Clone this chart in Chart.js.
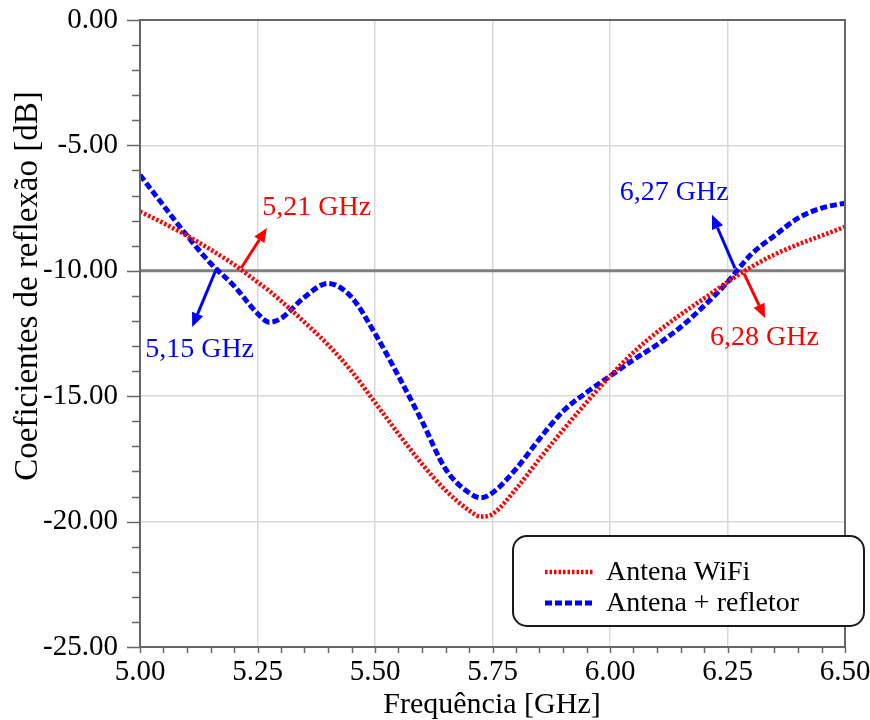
<!DOCTYPE html>
<html lang="pt">
<head>
<meta charset="utf-8">
<title>Coeficientes de reflexão</title>
<script src="https://cdn.jsdelivr.net/npm/chart.js@4.4.1/dist/chart.umd.min.js"></script>
<style>
  html, body { margin: 0; padding: 0; background: #fff; }
  #wrap { width: 870px; height: 720px; }
</style>
</head>
<body>
<div id="wrap"><canvas id="chart" width="870" height="720"></canvas></div>
<script>
// ------------------------- Data -------------------------
const freqs = [5.00, 5.05, 5.10, 5.15, 5.20, 5.25, 5.275, 5.30, 5.35, 5.40, 5.45, 5.50, 5.55,
  5.60, 5.65, 5.70, 5.725, 5.75, 5.80, 5.85, 5.90, 5.95, 6.00, 6.05, 6.10, 6.15, 6.20,
  6.25, 6.30, 6.35, 6.40, 6.45, 6.50];

const wifiDb = [-7.64, -8.1, -8.6, -9.15, -9.75, -10.45, -10.8, -11.2, -12.05, -12.95, -14.0, -15.25, -16.5,
  -17.7, -18.75, -19.55, -19.8, -19.7, -18.7, -17.5, -16.35, -15.25, -14.2, -13.25, -12.45, -11.75, -11.1,
  -10.45, -9.85, -9.35, -8.95, -8.6, -8.25];

const reflectorDb = [-6.18, -7.4, -8.6, -9.7, -10.6, -11.7, -12.05, -11.9, -11.05, -10.5, -11.05, -12.5, -14.2,
  -16.0, -17.9, -18.85, -19.05, -18.85, -17.9, -16.7, -15.6, -14.85, -14.2, -13.55, -12.95, -12.25, -11.4,
  -10.45, -9.35, -8.6, -7.9, -7.5, -7.3];

const seriesNames = ['Antena WiFi', 'Antena + refletor'];

const xMajorTicks = [5.00, 5.25, 5.50, 5.75, 6.00, 6.25, 6.50];
const yMajorTicks = [0, -5, -10, -15, -20, -25];
const refLevel = -10;

// annotations: label, label anchor (GHz, dB), arrow start, arrow tip
const annoTexts = ['5,21 GHz', '5,15 GHz', '6,27 GHz', '6,28 GHz'];
const annoLabelPos = [[5.26, -7.78], [5.011, -13.44], [6.021, -7.18], [6.213, -12.96]];
const annoArrowFrom = [[5.215, -9.9], [5.163, -9.9], [6.266, -9.9], [6.285, -10.1]];
const annoArrowTo = [[5.270, -8.29], [5.111, -12.24], [6.217, -7.77], [6.330, -11.88]];
const annoSeries = [0, 1, 1, 0];

// ------------------------- Styles -------------------------
const RED = '#ff0000';
const BLUE = '#0000ff';
const SERIF = '"Liberation Serif", "Times New Roman", serif';
const seriesStyle = [
  { color: RED, width: 4.5, dash: [2.5, 2] },
  { color: BLUE, width: 5, dash: [7, 3] }
];

// ------------------------- Helpers -------------------------
function toPoints(values) {
  return values.map((v, i) => ({ x: freqs[i], y: v }));
}

function minorSteps(majors, n) {
  const out = [];
  for (let i = 0; i < majors.length - 1; i++) {
    const a = majors[i], b = majors[i + 1];
    for (let k = 0; k < n; k++) out.push(a + (b - a) * k / n);
  }
  out.push(majors[majors.length - 1]);
  return out;
}

function drawArrow(ctx, x1, y1, x2, y2, color) {
  const ang = Math.atan2(y2 - y1, x2 - x1);
  const head = 14, half = 6;
  const bx = x2 - head * Math.cos(ang), by = y2 - head * Math.sin(ang);
  ctx.save();
  ctx.strokeStyle = color;
  ctx.fillStyle = color;
  ctx.lineWidth = 3;
  ctx.beginPath();
  ctx.moveTo(x1, y1);
  ctx.lineTo(bx, by);
  ctx.stroke();
  ctx.beginPath();
  ctx.moveTo(x2, y2);
  ctx.lineTo(bx + half * Math.sin(ang), by - half * Math.cos(ang));
  ctx.lineTo(bx - half * Math.sin(ang), by + half * Math.cos(ang));
  ctx.closePath();
  ctx.fill();
  ctx.restore();
}

function roundRect(ctx, x, y, w, h, r) {
  ctx.beginPath();
  ctx.moveTo(x + r, y);
  ctx.lineTo(x + w - r, y);
  ctx.arcTo(x + w, y, x + w, y + r, r);
  ctx.lineTo(x + w, y + h - r);
  ctx.arcTo(x + w, y + h, x + w - r, y + h, r);
  ctx.lineTo(x + r, y + h);
  ctx.arcTo(x, y + h, x, y + h - r, r);
  ctx.lineTo(x, y + r);
  ctx.arcTo(x, y, x + r, y, r);
  ctx.closePath();
}

// ------------------------- Plugins -------------------------
const refLinePlugin = {
  id: 'refLine',
  beforeDatasetsDraw(chart) {
    const { ctx, chartArea, scales } = chart;
    const y = scales.y.getPixelForValue(refLevel);
    ctx.save();
    ctx.strokeStyle = '#7f7f7f';
    ctx.lineWidth = 3;
    ctx.beginPath();
    ctx.moveTo(chartArea.left, y);
    ctx.lineTo(chartArea.right, y);
    ctx.stroke();
    ctx.restore();
  }
};

const decorPlugin = {
  id: 'decor',
  afterDraw(chart) {
    const { ctx, chartArea: ca, scales } = chart;
    const xs = scales.x, ys = scales.y;
    ctx.save();

    // frame
    ctx.strokeStyle = '#666';
    ctx.lineWidth = 2;
    ctx.strokeRect(ca.left, ca.top, ca.right - ca.left, ca.bottom - ca.top);

    // tick marks (outside)
    ctx.lineWidth = 1.5;
    minorSteps(yMajorTicks, 5).forEach((v, i) => {
      const y = Math.round(ys.getPixelForValue(v)) + 0.5;
      const len = i % 5 === 0 ? 13 : 8;
      ctx.beginPath();
      ctx.moveTo(ca.left - len, y);
      ctx.lineTo(ca.left, y);
      ctx.stroke();
    });
    minorSteps(xMajorTicks, 5).forEach(v => {
      const x = Math.round(xs.getPixelForValue(v)) + 0.5;
      ctx.beginPath();
      ctx.moveTo(x, ca.bottom);
      ctx.lineTo(x, ca.bottom + 6);
      ctx.stroke();
    });

    // axis titles
    ctx.fillStyle = '#000';
    ctx.font = '30px ' + SERIF;
    ctx.textAlign = 'center';
    ctx.textBaseline = 'alphabetic';
    ctx.fillText('Frequência [GHz]', 492, 713);
    ctx.save();
    ctx.font = '33px ' + SERIF;
    ctx.textBaseline = 'middle';
    ctx.translate(28, 286);
    ctx.rotate(-Math.PI / 2);
    ctx.fillText('Coeficientes de reflexão [dB]', 0, 0);
    ctx.restore();

    // annotations
    ctx.font = '28px ' + SERIF;
    ctx.textAlign = 'left';
    ctx.textBaseline = 'alphabetic';
    annoTexts.forEach((t, i) => {
      const col = seriesStyle[annoSeries[i]].color;
      drawArrow(ctx,
        xs.getPixelForValue(annoArrowFrom[i][0]), ys.getPixelForValue(annoArrowFrom[i][1]),
        xs.getPixelForValue(annoArrowTo[i][0]), ys.getPixelForValue(annoArrowTo[i][1]), col);
      ctx.fillStyle = col;
      ctx.fillText(t, xs.getPixelForValue(annoLabelPos[i][0]), ys.getPixelForValue(annoLabelPos[i][1]));
    });

    // legend box
    const bx = 513, by = 536, bw = 351, bh = 90;
    ctx.fillStyle = '#fff';
    ctx.strokeStyle = '#1a1a1a';
    ctx.lineWidth = 2;
    roundRect(ctx, bx, by, bw, bh, 14);
    ctx.fill();
    ctx.stroke();
    ctx.font = '28px ' + SERIF;
    ctx.textBaseline = 'middle';
    seriesNames.forEach((name, i) => {
      const st = seriesStyle[i];
      const y = by + 36 + i * 31;
      ctx.strokeStyle = st.color;
      ctx.lineWidth = st.width;
      ctx.setLineDash(st.dash);
      ctx.beginPath();
      ctx.moveTo(bx + 32, y);
      ctx.lineTo(bx + 80, y);
      ctx.stroke();
      ctx.setLineDash([]);
      ctx.fillStyle = '#000';
      ctx.fillText(name, bx + 93, y + 1);
    });

    ctx.restore();
  }
};

// ------------------------- Chart -------------------------
const ctx = document.getElementById('chart').getContext('2d');
const chart = new Chart(ctx, {
  type: 'line',
  data: {
    datasets: [wifiDb, reflectorDb].map((vals, i) => ({
      label: seriesNames[i],
      data: toPoints(vals),
      borderColor: seriesStyle[i].color,
      borderWidth: seriesStyle[i].width,
      borderDash: seriesStyle[i].dash,
      pointRadius: 0,
      fill: false,
      cubicInterpolationMode: 'monotone'
    }))
  },
  options: {
    responsive: false,
    animation: false,
    layout: { padding: { top: 20, right: 25, left: 0, bottom: 0 } },
    plugins: { legend: { display: false }, tooltip: { enabled: false } },
    scales: {
      x: {
        type: 'linear',
        min: 5,
        max: 6.5,
        afterBuildTicks: s => { s.ticks = xMajorTicks.map(v => ({ value: v })); },
        afterFit: s => { s.height = 73; s.paddingLeft = 0; s.paddingRight = 0; },
        grid: { color: '#d9d9d9', lineWidth: 1.5, drawTicks: false },
        border: { display: false },
        ticks: {
          padding: 8,
          color: '#000',
          font: { family: SERIF, size: 29 },
          maxRotation: 0,
          callback: v => Number(v).toFixed(2)
        }
      },
      y: {
        min: -25,
        max: 0,
        afterBuildTicks: s => { s.ticks = yMajorTicks.map(v => ({ value: v })); },
        afterFit: s => { s.width = 140; s.paddingTop = 0; s.paddingBottom = 0; },
        grid: { color: '#d9d9d9', lineWidth: 1.5, drawTicks: false },
        border: { display: false },
        ticks: {
          padding: 22,
          color: '#000',
          font: { family: SERIF, size: 29 },
          callback: v => Number(v).toFixed(2)
        }
      }
    }
  },
  plugins: [refLinePlugin, decorPlugin]
});
</script>
</body>
</html>
